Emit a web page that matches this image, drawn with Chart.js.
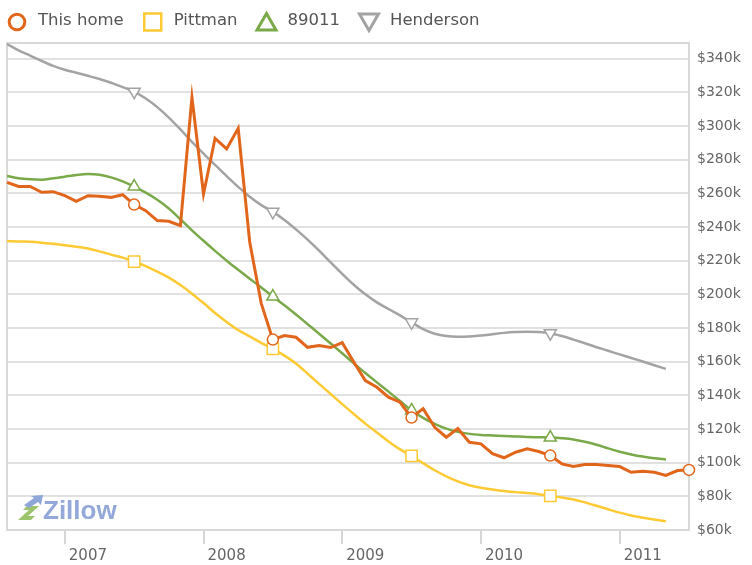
<!DOCTYPE html>
<html lang="en">
<head>
<meta charset="UTF-8">
<title>Home value chart</title>
<script src="https://cdn.jsdelivr.net/npm/chart.js"></script>
<style>
  html, body { margin: 0; padding: 0; background: #fff; }
</style>
</head>
<body>
<canvas id="homeChart" width="752" height="565"></canvas>
<script>
// monthly values in $k, starting Aug 2006
const firstYear = 2006, firstMonth = 8, monthCount = 60;

const thisHome = [266.5, 264.1, 264.1, 260.6, 261.0, 258.6, 255.2, 258.6, 258.2, 257.6,
    259.2, 253.3, 249.7, 243.8, 243.4, 240.8, 317.0, 259.6, 292.7, 286.4,
    298.6, 230.9, 194.5, 173.1, 175.5, 174.5, 168.5, 169.6, 168.4, 171.3,
    159.8, 148.8, 144.8, 138.9, 135.9, 126.8, 132.1, 121.0, 115.1, 120.3,
    112.1, 111.2, 105.4, 102.9, 106.2, 108.2, 106.6, 104.2, 99.3, 97.7,
    98.9, 98.9, 98.3, 97.7, 94.3, 94.9, 94.3, 92.4, 95.3, 95.7];

const pittman = [231.7, 231.4, 231.2, 230.7, 230.0, 229.2, 228.3, 227.2, 225.5, 223.6,
    221.8, 219.4, 216.8, 213.5, 209.9, 205.5, 200.4, 194.8, 188.9, 183.6,
    178.8, 175.0, 171.2, 167.6, 163.6, 158.9, 152.9, 146.8, 140.8, 134.8,
    128.9, 123.2, 117.9, 112.6, 107.9, 104.0, 99.7, 95.5, 91.9, 88.9,
    86.6, 85.1, 84.0, 83.1, 82.5, 82.0, 81.3, 80.3, 79.3, 78.1,
    76.4, 74.4, 72.3, 70.3, 68.6, 67.3, 66.2, 65.2];

const zip89011 = [270.3, 268.9, 268.3, 268.1, 268.9, 269.9, 270.9, 271.5, 271.1, 269.5,
    267.1, 264.0, 260.4, 256.2, 251.0, 244.6, 238.0, 231.8, 225.8, 220.0,
    214.6, 209.3, 204.0, 198.7, 193.5, 188.0, 182.3, 176.6, 170.8, 165.0,
    159.0, 153.3, 147.7, 142.2, 136.6, 131.0, 126.6, 123.0, 120.2, 118.3,
    117.1, 116.5, 116.2, 115.9, 115.6, 115.3, 115.1, 114.9, 114.5, 113.8,
    112.4, 110.6, 108.5, 106.5, 104.9, 103.6, 102.6, 101.9];

const henderson = [348.7, 344.9, 341.8, 338.6, 335.7, 333.4, 331.6, 329.8, 327.9, 325.7,
    323.1, 320.4, 316.3, 311.2, 305.0, 298.0, 290.6, 283.6, 276.9, 270.2,
    263.8, 258.0, 253.0, 249.0, 244.2, 238.6, 232.5, 226.0, 219.0, 212.2,
    205.7, 200.0, 195.2, 191.3, 187.5, 183.4, 179.3, 176.6, 175.2, 174.8,
    175.0, 175.5, 176.3, 177.1, 177.6, 177.8, 177.6, 176.9, 175.2, 173.1,
    170.9, 168.6, 166.5, 164.3, 162.2, 160.1, 157.9, 155.7];

const yTicks = [60, 80, 100, 120, 140, 160, 180, 200, 220, 240, 260, 280, 300, 320, 340];
const yMin = 60, yMax = 349.3;

const months = [];
for (let i = 0; i < monthCount; i++) {
    const m = firstMonth - 1 + i;
    months.push((firstYear + Math.floor(m / 12)) + '-' + String(m % 12 + 1).padStart(2, '0'));
}
const isJan = i => months[i] && months[i].endsWith('-01');
// a marker once a year, in July
const markerAt = r => c => months[c.dataIndex].endsWith('-07') ? r : 0;

const ORANGE = '#e1661b', YELLOW = '#fdca34', GREEN = '#7aa94a', GRAY = '#a3a3a3';
const fontFamily = '"DejaVu Sans", Verdana, sans-serif';

const series = [
    { label: 'This home', data: thisHome, color: ORANGE, style: 'circle', r: 5.5, width: 3, tension: 0 },
    { label: 'Pittman', data: pittman, color: YELLOW, style: 'rect', r: 8, width: 2.5, smooth: true },
    { label: '89011', data: zip89011, color: GREEN, style: 'triangle', r: 7, width: 2.5, smooth: true },
    { label: 'Henderson', data: henderson, color: GRAY, style: 'triangle', rot: 180, r: 7, width: 2.5, smooth: true }
];

function legendMarker(ctx, s, cx, cy) {
    ctx.save();
    ctx.strokeStyle = s.color;
    ctx.fillStyle = '#fff';
    ctx.lineWidth = 3;
    ctx.beginPath();
    if (s.style === 'circle') {
        ctx.arc(cx, cy, 7.8, 0, Math.PI * 2);
    } else if (s.style === 'rect') {
        ctx.lineWidth = 2.5;
        ctx.rect(cx - 8.5, cy - 8.5, 17, 17);
    } else {
        const d = s.rot ? -1 : 1;
        ctx.moveTo(cx, cy - d * 8.5);
        ctx.lineTo(cx + 9.5, cy + d * 8);
        ctx.lineTo(cx - 9.5, cy + d * 8);
        ctx.closePath();
    }
    ctx.fill();
    ctx.stroke();
    ctx.restore();
}

function drawLogo(ctx, x, y) {
    ctx.save();
    // green "z" strokes
    ctx.fillStyle = '#9cc46c';
    ctx.beginPath();
    ctx.moveTo(x, y + 1); ctx.lineTo(x + 11, y - 9); ctx.lineTo(x + 5, y - 9);
    ctx.lineTo(x + 9, y - 13); ctx.lineTo(x + 21, y - 13); ctx.lineTo(x + 10, y - 3);
    ctx.lineTo(x + 17, y - 3); ctx.lineTo(x + 13, y + 1);
    ctx.closePath();
    ctx.fill();
    // blue roof arrow
    ctx.fillStyle = '#8fa6d8';
    ctx.beginPath();
    ctx.moveTo(x + 6, y - 14); ctx.lineTo(x + 16, y - 21); ctx.lineTo(x + 13, y - 23);
    ctx.lineTo(x + 25, y - 24); ctx.lineTo(x + 23, y - 14); ctx.lineTo(x + 20, y - 17);
    ctx.lineTo(x + 11, y - 11);
    ctx.closePath();
    ctx.fill();
    ctx.fillStyle = '#94a8da';
    ctx.font = 'bold 26px "Liberation Sans", Arial, sans-serif';
    ctx.textBaseline = 'alphabetic';
    ctx.fillText('Zillow', x + 25, y);
    ctx.restore();
}

const framePlugin = {
    id: 'frame',
    beforeDatasetsDraw(chart) {
        const { ctx, chartArea: a } = chart;
        ctx.save();
        ctx.strokeStyle = '#d9d9d9';
        ctx.lineWidth = 2;
        ctx.strokeRect(a.left, a.top, a.right - a.left, a.bottom - a.top);
        ctx.restore();
        drawLogo(ctx, a.left + 11, a.bottom - 11);
    },
    afterDraw(chart) {
        const ctx = chart.ctx;
        ctx.save();
        ctx.font = '16.5px ' + fontFamily;
        ctx.fillStyle = '#555';
        ctx.textBaseline = 'middle';
        let x = 8;
        const y = 21;
        series.forEach(s => {
            legendMarker(ctx, s, x + 9, y + 1);
            ctx.fillText(s.label, x + 30, y);
            x += 30 + ctx.measureText(s.label).width + 20;
        });
        ctx.restore();
    }
};

new Chart(document.getElementById('homeChart'), {
    type: 'line',
    data: {
        labels: months,
        datasets: series.map(s => ({
            label: s.label,
            data: s.data,
            borderColor: s.color,
            borderWidth: s.width,
            tension: s.tension || 0,
            cubicInterpolationMode: s.smooth ? 'monotone' : 'default',
            fill: false,
            clip: false,
            pointStyle: s.style,
            rotation: s.rot || 0,
            pointRadius: markerAt(s.r),
            pointHoverRadius: markerAt(s.r),
            pointBackgroundColor: '#fff',
            pointBorderColor: s.color,
            pointBorderWidth: 1.5
        }))
    },
    options: {
        responsive: false,
        animation: false,
        devicePixelRatio: 1,
        events: [],
        layout: { padding: { top: 43, left: 4, right: 0, bottom: 0 } },
        plugins: {
            legend: { display: false },
            tooltip: { enabled: false }
        },
        scales: {
            x: {
                type: 'category',
                offset: false,
                border: { display: false },
                grid: {
                    drawOnChartArea: false,
                    tickLength: 14,
                    lineWidth: 2,
                    color: c => isJan(c.index) ? '#d6d6d6' : 'rgba(0,0,0,0)'
                },
                ticks: {
                    autoSkip: false,
                    maxRotation: 0,
                    align: 'start',
                    labelOffset: 4,
                    padding: 3,
                    color: '#666',
                    font: { family: fontFamily, size: 15 },
                    callback: (v, i) => isJan(i) ? months[i].slice(0, 4) : ''
                },
                afterFit: s => { s.height = 35; }
            },
            y: {
                position: 'right',
                min: yMin,
                max: yMax,
                border: { display: false },
                grid: { color: '#e1e1e1', lineWidth: 2, drawTicks: false },
                ticks: {
                    padding: 8,
                    color: '#666',
                    font: { family: fontFamily, size: 14 },
                    callback: v => '$' + v + 'k'
                },
                afterBuildTicks: s => { s.ticks = yTicks.map(v => ({ value: v })); },
                afterFit: s => { s.width = 63; }
            }
        }
    },
    plugins: [framePlugin]
});
</script>
</body>
</html>
